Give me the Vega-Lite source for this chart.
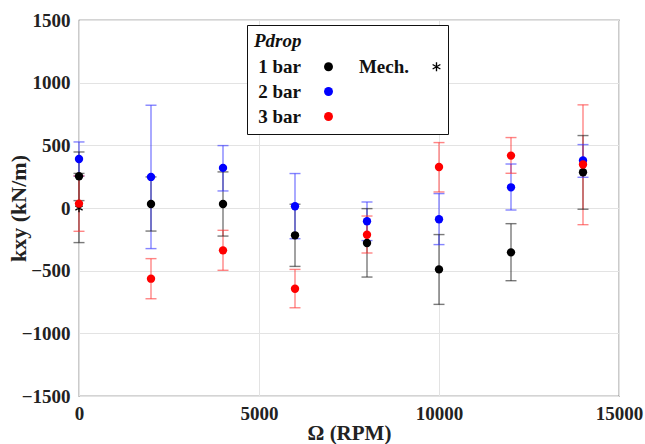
{
  "$schema": "https://vega.github.io/schema/vega-lite/v6.json",
  "width": 540,
  "height": 376,
  "autosize": {"type": "none"},
  "padding": {"left": 79, "top": 20, "right": 26, "bottom": 48},
  "background": "white",
  "config": {
    "view": {"stroke": "#555555", "strokeWidth": 1.2},
    "font": "Liberation Serif",
    "axis": {
      "labelFont": "Liberation Serif",
      "labelFontWeight": "bold",
      "labelFontSize": 19,
      "labelColor": "#222222",
      "titleFont": "Liberation Serif",
      "titleFontWeight": "bold",
      "titleFontSize": 22,
      "titleColor": "#222222",
      "gridColor": "#e3e3e3",
      "gridWidth": 1,
      "domain": false,
      "ticks": false
    }
  },
  "data": {
    "values": [
      {"rpm": 0, "k": 253, "lo": 59, "hi": 447, "series": "1 bar"},
      {"rpm": 2000, "k": 32, "lo": -184, "hi": 248, "series": "1 bar"},
      {"rpm": 4000, "k": 32, "lo": -224, "hi": 288, "series": "1 bar"},
      {"rpm": 6000, "k": -218, "lo": -466, "hi": 30, "series": "1 bar"},
      {"rpm": 8000, "k": -279, "lo": -551, "hi": -5, "series": "1 bar"},
      {"rpm": 10000, "k": -490, "lo": -769, "hi": -212, "series": "1 bar"},
      {"rpm": 12000, "k": -354, "lo": -580, "hi": -125, "series": "1 bar"},
      {"rpm": 14000, "k": 285, "lo": -10, "hi": 578, "series": "1 bar"},
      {"rpm": 0, "k": 0, "lo": -276, "hi": 276, "series": "Mech."},
      {"rpm": 0, "k": 391, "lo": 255, "hi": 527, "series": "2 bar"},
      {"rpm": 2000, "k": 248, "lo": -324, "hi": 820, "series": "2 bar"},
      {"rpm": 4000, "k": 320, "lo": 136, "hi": 498, "series": "2 bar"},
      {"rpm": 6000, "k": 14, "lo": -245, "hi": 275, "series": "2 bar"},
      {"rpm": 8000, "k": -106, "lo": -260, "hi": 48, "series": "2 bar"},
      {"rpm": 10000, "k": -90, "lo": -292, "hi": 115, "series": "2 bar"},
      {"rpm": 12000, "k": 165, "lo": -16, "hi": 351, "series": "2 bar"},
      {"rpm": 14000, "k": 379, "lo": 245, "hi": 506, "series": "2 bar"},
      {"rpm": 0, "k": 35, "lo": -186, "hi": 256, "series": "3 bar"},
      {"rpm": 2000, "k": -564, "lo": -724, "hi": -404, "series": "3 bar"},
      {"rpm": 4000, "k": -338, "lo": -497, "hi": -178, "series": "3 bar"},
      {"rpm": 6000, "k": -644, "lo": -796, "hi": -490, "series": "3 bar"},
      {"rpm": 8000, "k": -213, "lo": -359, "hi": -64, "series": "3 bar"},
      {"rpm": 10000, "k": 327, "lo": 128, "hi": 522, "series": "3 bar"},
      {"rpm": 12000, "k": 418, "lo": 277, "hi": 562, "series": "3 bar"},
      {"rpm": 14000, "k": 347, "lo": -133, "hi": 823, "series": "3 bar"}
    ]
  },
  "encoding": {
    "x": {
      "field": "rpm",
      "type": "quantitative",
      "scale": {"domain": [0, 15000], "nice": false},
      "axis": {"values": [0, 5000, 10000, 15000], "format": "d", "title": "Ω (RPM)", "labelFont": "Liberation Serif", "labelFontWeight": "bold", "labelFontSize": 19, "labelPadding": 8, "titlePadding": -1, "titleFontSize": 21, "labelFlush": false}
    }
  },
  "layer": [
    {
      "mark": {"type": "rule", "strokeWidth": 1.4, "opacity": 0.6},
      "encoding": {
        "y": {
          "field": "lo",
          "type": "quantitative",
          "scale": {"domain": [-1500, 1500], "nice": false},
          "axis": {"values": [-1500, -1000, -500, 0, 500, 1000, 1500], "format": "d", "title": "kxy (kN/m)", "labelFont": "Liberation Serif", "labelFontWeight": "bold", "labelFontSize": 19, "labelPadding": 9, "titlePadding": -9}
        },
        "y2": {"field": "hi"},
        "stroke": {
          "field": "series",
          "type": "nominal",
          "scale": {"domain": ["1 bar", "Mech.", "2 bar", "3 bar"], "range": ["#222222", "#222222", "#3333ff", "#ff3333"]},
          "legend": null
        }
      }
    },
    {
      "mark": {"type": "tick", "orient": "horizontal", "size": 11, "thickness": 1.4, "opacity": 0.6},
      "encoding": {
        "y": {"field": "lo", "type": "quantitative"},
        "fill": {
          "field": "series",
          "type": "nominal",
          "scale": {"domain": ["1 bar", "Mech.", "2 bar", "3 bar"], "range": ["#222222", "#222222", "#3333ff", "#ff3333"]},
          "legend": null
        }
      }
    },
    {
      "mark": {"type": "tick", "orient": "horizontal", "size": 11, "thickness": 1.4, "opacity": 0.6},
      "encoding": {
        "y": {"field": "hi", "type": "quantitative"},
        "fill": {"field": "series", "type": "nominal", "legend": null}
      }
    },
    {
      "mark": {"type": "point", "filled": true, "size": 70, "opacity": 1},
      "encoding": {
        "y": {"field": "k", "type": "quantitative"},
        "color": {
          "field": "series",
          "type": "nominal",
          "scale": {"domain": ["1 bar", "2 bar", "3 bar", "Mech.", "_"], "range": ["#000000", "#0000ff", "#ff0000", "#000000", "transparent"]},
          "legend": {
            "title": "Pdrop",
            "orient": "none",
            "legendX": 168,
            "legendY": 5,
            "columns": 2,
            "direction": "vertical",
            "labelAlign": "right",
            "labelOffset": -37,
            "symbolOffset": 65,
            "labelExpr": "datum.label == '_' ? '' : datum.label",
            "labelFont": "Liberation Serif",
            "labelFontWeight": "bold",
            "labelFontSize": 19,
            "labelColor": "#111111",
            "titleFont": "Liberation Serif",
            "titleFontWeight": "bold",
            "titleFontStyle": "italic",
            "titleFontSize": 19,
            "titleColor": "#111111",
            "titlePadding": 6,
            "padding": 7,
            "rowPadding": 5,
            "columnPadding": 25,
            "symbolSize": 80,
            "strokeColor": "#111111",
            "fillColor": "white"
          }
        },
        "shape": {
          "field": "series",
          "type": "nominal",
          "scale": {
            "domain": ["1 bar", "2 bar", "3 bar", "Mech.", "_"],
            "range": ["circle", "circle", "circle", "M-0.15,-1L0.15,-1L0.15,1L-0.15,1Z M0.941,0.37L0.791,0.63L-0.941,-0.37L-0.791,-0.63Z M0.791,-0.63L0.941,-0.37L-0.791,0.63L-0.941,0.37Z", "circle"]
          },
          "legend": {
            "title": "Pdrop",
            "orient": "none",
            "legendX": 168,
            "legendY": 5,
            "columns": 2,
            "direction": "vertical",
            "labelAlign": "right",
            "labelOffset": -37,
            "symbolOffset": 65,
            "labelExpr": "datum.label == '_' ? '' : datum.label"
          }
        }
      }
    }
  ]
}
